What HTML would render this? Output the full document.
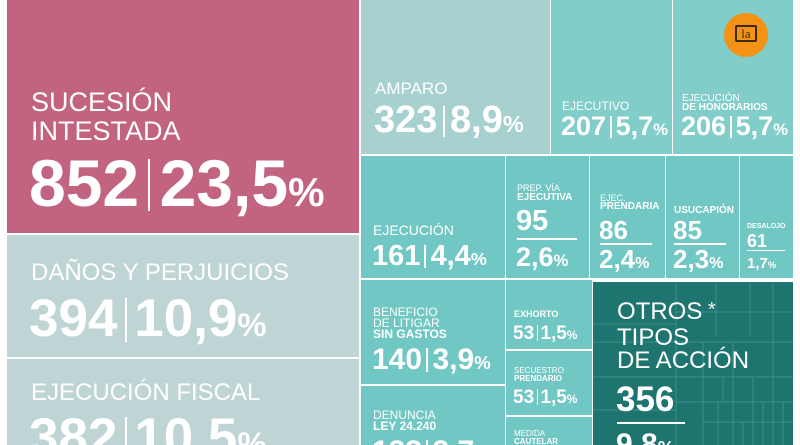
<!DOCTYPE html>
<html><head><meta charset="utf-8">
<style>
*{margin:0;padding:0;box-sizing:border-box}
body{width:800px;height:445px;overflow:hidden;background:#fff;position:relative;font-family:"Liberation Sans",sans-serif;color:#fff}
.b{position:absolute;overflow:hidden}
.t{position:absolute;white-space:nowrap;line-height:1}
.n{font-weight:bold;letter-spacing:0}
.p{font-size:0.62em}
.sep{display:inline-block;width:2px;background:#fff;vertical-align:top;margin:0 0.14em}
.hl{position:absolute;height:1.5px;background:#fff}
.l{font-weight:normal}
.lb{font-weight:bold}
</style></head><body>
<div class="b" style="left:7px;top:0;width:352px;height:233px;background:#c26380">
 <div class="t l" style="left:24px;top:89px;font-size:27px">SUCESIÓN</div>
 <div class="t l" style="left:24px;top:118px;font-size:27px">INTESTADA</div>
 <div class="t n" style="left:22px;top:150px;font-size:66px">852<span class="sep" style="height:52px;margin-top:9px"></span>23,5<span class="p">%</span></div>
</div>
<div class="b" style="left:7px;top:235px;width:352px;height:122px;background:#bfd4d4">
 <div class="t l" style="left:24px;top:26px;font-size:24px">DAÑOS Y PERJUICIOS</div>
 <div class="t n" style="left:22px;top:57px;font-size:53px">394<span class="sep" style="height:44px;margin-top:6px"></span>10,9<span class="p">%</span></div>
</div>
<div class="b" style="left:7px;top:359px;width:352px;height:86px;background:#bfd4d4">
 <div class="t l" style="left:24px;top:22px;font-size:24px">EJECUCIÓN FISCAL</div>
 <div class="t n" style="left:22px;top:52px;font-size:53px">382<span class="sep" style="height:44px;margin-top:6px"></span>10,5<span class="p">%</span></div>
</div>
<div class="b" style="left:361px;top:0;width:189px;height:154px;background:#a6d1cf">
 <div class="t l" style="left:14px;top:80px;font-size:17px">AMPARO</div>
 <div class="t n" style="left:13px;top:101px;font-size:38px">323<span class="sep" style="height:31px;margin-top:5px"></span>8,9<span class="p">%</span></div>
</div>
<div class="b" style="left:551px;top:0;width:121px;height:154px;background:#80cdca">
 <div class="t l" style="left:11px;top:100px;font-size:12px">EJECUTIVO</div>
 <div class="t n" style="left:10px;top:113px;font-size:27px">207<span class="sep" style="height:22px;margin-top:3px"></span>5,7<span class="p">%</span></div>
</div>
<div class="b" style="left:673px;top:0;width:120px;height:154px;background:#80cdca">
 <div class="t l" style="left:9px;top:94px;font-size:10px">EJECUCIÓN</div>
 <div class="t lb" style="left:9px;top:103px;font-size:10px">DE HONORARIOS</div>
 <div class="t n" style="left:8px;top:113px;font-size:27px">206<span class="sep" style="height:22px;margin-top:3px"></span>5,7<span class="p">%</span></div>
</div>
<div style="position:absolute;left:724px;top:13px;width:44px;height:44px;border-radius:50%;background:#f39214">
 <div style="position:absolute;left:11px;top:12px;width:22px;height:17px;background:#f39214;border:2px solid #3a2a10;border-radius:2px;font-family:'Liberation Serif',serif;font-size:13px;color:#3a2a10;text-align:center;line-height:13px">la</div>
</div>
<div class="b" style="left:361px;top:156px;width:144px;height:122px;background:#71c7c3">
 <div class="t l" style="left:12px;top:67px;font-size:14px">EJECUCIÓN</div>
 <div class="t n" style="left:11px;top:86px;font-size:29px">161<span class="sep" style="height:23px;margin-top:3px"></span>4,4<span class="p">%</span></div>
</div>
<div class="b" style="left:506px;top:156px;width:83px;height:122px;background:#71c7c3">
 <div class="t l" style="left:11px;top:28px;font-size:9px">PREP. VÍA</div>
 <div class="t lb" style="left:11px;top:37px;font-size:10px">EJECUTIVA</div>
 <div class="t n" style="left:10px;top:51px;font-size:29px">95</div>
 <div class="hl" style="left:11px;top:82px;width:60px"></div>
 <div class="t n" style="left:10px;top:88px;font-size:27px">2,6<span class="p">%</span></div>
</div>
<div class="b" style="left:590px;top:156px;width:75px;height:122px;background:#71c7c3">
 <div class="t l" style="left:10px;top:38px;font-size:9px">EJEC.</div>
 <div class="t lb" style="left:10px;top:46px;font-size:10px">PRENDARIA</div>
 <div class="t n" style="left:9px;top:61px;font-size:26px">86</div>
 <div class="hl" style="left:10px;top:87px;width:52px"></div>
 <div class="t n" style="left:9px;top:90px;font-size:26px">2,4<span class="p">%</span></div>
</div>
<div class="b" style="left:666px;top:156px;width:73px;height:122px;background:#71c7c3">
 <div class="t lb" style="left:8px;top:50px;font-size:10px">USUCAPIÓN</div>
 <div class="t n" style="left:7px;top:61px;font-size:26px">85</div>
 <div class="hl" style="left:8px;top:87px;width:52px"></div>
 <div class="t n" style="left:7px;top:90px;font-size:26px">2,3<span class="p">%</span></div>
</div>
<div class="b" style="left:740px;top:156px;width:53px;height:122px;background:#71c7c3">
 <div class="t lb" style="left:7px;top:67px;font-size:7px">DESALOJO</div>
 <div class="t n" style="left:7px;top:76px;font-size:18px">61</div>
 <div class="hl" style="left:7px;top:94px;width:38px;height:1px"></div>
 <div class="t n" style="left:7px;top:100px;font-size:15px">1,7<span class="p">%</span></div>
</div>
<div class="b" style="left:361px;top:280px;width:144px;height:104px;background:#71c7c3">
 <div class="t l" style="left:12px;top:26px;font-size:12px">BENEFICIO</div>
 <div class="t l" style="left:12px;top:37px;font-size:12px">DE LITIGAR</div>
 <div class="t lb" style="left:12px;top:48px;font-size:12px">SIN GASTOS</div>
 <div class="t n" style="left:11px;top:65px;font-size:30px">140<span class="sep" style="height:24px;margin-top:3px"></span>3,9<span class="p">%</span></div>
</div>
<div class="b" style="left:361px;top:386px;width:144px;height:59px;background:#71c7c3">
 <div class="t l" style="left:12px;top:23px;font-size:12px">DENUNCIA</div>
 <div class="t lb" style="left:12px;top:34px;font-size:12px">LEY 24.240</div>
 <div class="t n" style="left:11px;top:51px;font-size:30px">133<span class="sep" style="height:24px;margin-top:3px"></span>3,7<span class="p">%</span></div>
</div>
<div class="b" style="left:506px;top:280px;width:86px;height:69px;background:#71c7c3">
 <div class="t lb" style="left:8px;top:30px;font-size:9px">EXHORTO</div>
 <div class="t n" style="left:7px;top:44px;font-size:19px">53<span class="sep" style="height:16px;margin-top:1px;width:1px"></span>1,5<span class="p">%</span></div>
</div>
<div class="b" style="left:506px;top:351px;width:86px;height:64px;background:#71c7c3">
 <div class="t l" style="left:8px;top:16px;font-size:8px">SECUESTRO</div>
 <div class="t lb" style="left:8px;top:24px;font-size:8px">PRENDARIO</div>
 <div class="t n" style="left:7px;top:37px;font-size:19px">53<span class="sep" style="height:16px;margin-top:1px;width:1px"></span>1,5<span class="p">%</span></div>
</div>
<div class="b" style="left:506px;top:417px;width:86px;height:28px;background:#71c7c3">
 <div class="t l" style="left:8px;top:13px;font-size:8px">MEDIDA</div>
 <div class="t lb" style="left:8px;top:21px;font-size:8px">CAUTELAR</div>
</div>
<div class="b" style="left:593px;top:282px;width:200px;height:163px;background:#1e7570">
 <svg width="200" height="163" style="position:absolute;left:0;top:0">
  <g stroke="#3f8f8a" stroke-width="1" fill="none">
   <line x1="83" y1="0" x2="83" y2="163"/><line x1="123" y1="0" x2="123" y2="55"/><line x1="157" y1="0" x2="157" y2="55"/><line x1="180" y1="0" x2="180" y2="163"/>
   <line x1="0" y1="60" x2="200" y2="60"/><line x1="0" y1="95" x2="200" y2="95"/><line x1="83" y1="30" x2="200" y2="30"/>
   <line x1="110" y1="60" x2="110" y2="163"/><line x1="140" y1="60" x2="140" y2="163"/><line x1="160" y1="95" x2="160" y2="163"/>
   <line x1="83" y1="120" x2="200" y2="120"/><line x1="110" y1="140" x2="200" y2="140"/><line x1="0" y1="42" x2="83" y2="42"/>
   <line x1="125" y1="120" x2="125" y2="163"/><line x1="150" y1="140" x2="150" y2="163"/><line x1="170" y1="120" x2="170" y2="163"/><line x1="190" y1="120" x2="190" y2="163"/>
   <line x1="0" y1="128" x2="83" y2="128"/><line x1="130" y1="95" x2="130" y2="120"/>
  </g>
 </svg>
 <div class="t l" style="left:24px;top:18px;font-size:24px">OTROS<span style="font-size:20px;vertical-align:top"> *</span></div>
 <div class="t l" style="left:24px;top:44px;font-size:24px">TIPOS</div>
 <div class="t l" style="left:24px;top:67px;font-size:24px">DE ACCIÓN</div>
 <div class="t n" style="left:23px;top:100px;font-size:35px">356</div>
 <div class="hl" style="left:24px;top:140px;width:68px;height:2px"></div>
 <div class="t n" style="left:23px;top:148px;font-size:30px">9,8<span class="p">%</span></div>
</div>
</body></html>
